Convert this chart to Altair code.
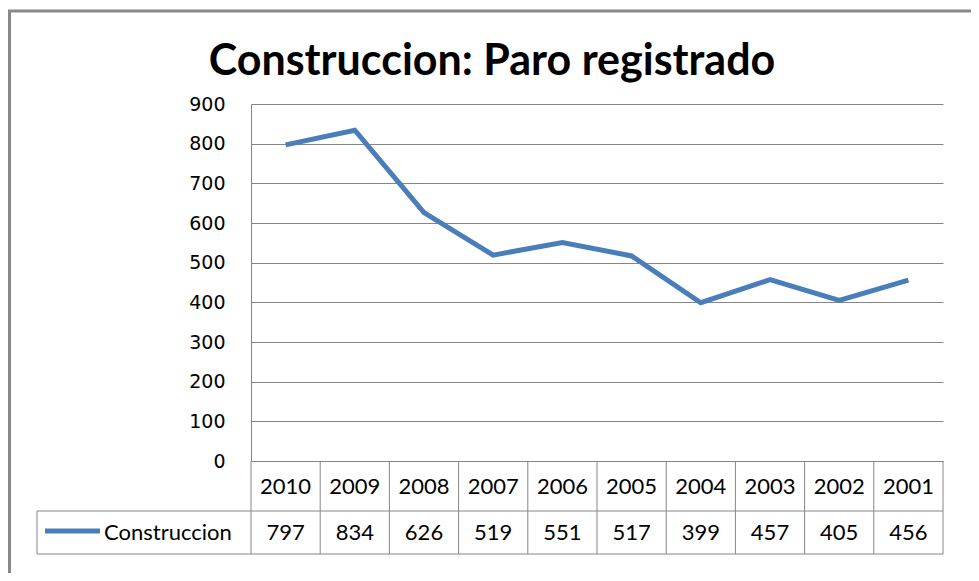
import altair as alt
import pandas as pd

years = ["2010", "2009", "2008", "2007", "2006", "2005", "2004", "2003", "2002", "2001"]
values = [797, 834, 626, 519, 551, 517, 399, 457, 405, 456]
series_name = "Construccion"
title_text = "Construccion: Paro registrado"
y_ticks = [0, 100, 200, 300, 400, 500, 600, 700, 800, 900]

n = len(years)
df = pd.DataFrame({"year": years, "value": values, "series": series_name,
                   "pos": [i + 0.5 for i in range(n)]})
edges = pd.DataFrame({"edge": list(range(n + 1))})
one = pd.DataFrame({"series": [series_name], "title": [title_text]})

W, H = 692, 357
BLUE = "#4A7EBB"
GRID = "#868686"
TFONT = "Lato"
TSIZE = 22

xscale = alt.Scale(domain=[0, n], nice=False, zero=False)
yscale = alt.Scale(domain=[0, 900], nice=False)

line = alt.Chart(df).mark_line(color=BLUE, strokeWidth=5).encode(
    x=alt.X("pos:Q", scale=xscale, axis=None),
    y=alt.Y("value:Q", scale=yscale,
            axis=alt.Axis(values=y_ticks, grid=True, gridColor=GRID, gridWidth=1,
                          domain=True, domainColor=GRID, tickSize=0,
                          labelFont="DejaVu Sans", labelFontSize=19, labelColor="#000",
                          labelPadding=26, title=None)),
)

vlines = alt.Chart(edges).mark_rule(color=GRID, strokeWidth=1).encode(
    x=alt.X("edge:Q", scale=xscale, axis=None),
    y=alt.value(H), y2=alt.value(450),
)
hlines = alt.Chart(one).mark_rule(color=GRID, strokeWidth=1).encode(
    x=alt.value(-214), x2=alt.value(W), y=alt.value(407))
hline2 = alt.Chart(one).mark_rule(color=GRID, strokeWidth=1).encode(
    x=alt.value(-214), x2=alt.value(W), y=alt.value(450))
vleft = alt.Chart(one).mark_rule(color=GRID, strokeWidth=1).encode(
    x=alt.value(-214), y=alt.value(407), y2=alt.value(450))

year_text = alt.Chart(df).mark_text(font=TFONT, fontSize=TSIZE, color="#000", baseline="middle").encode(
    x=alt.X("pos:Q", scale=xscale, axis=None),
    y=alt.value(383), text="year:N",
)
val_text = alt.Chart(df).mark_text(font=TFONT, fontSize=TSIZE, color="#000", baseline="middle").encode(
    x=alt.X("pos:Q", scale=xscale, axis=None),
    y=alt.value(429), text="value:Q",
)

legend_sym = alt.Chart(one).mark_rule(color=BLUE, strokeWidth=5).encode(
    x=alt.value(-206), x2=alt.value(-151), y=alt.value(427))
legend_txt = alt.Chart(one).mark_text(font=TFONT, fontSize=TSIZE, color="#000",
                                      align="left", baseline="middle").encode(
    x=alt.value(-147), y=alt.value(429), text="series:N")

title_mark = alt.Chart(one).mark_text(font=TFONT, fontSize=43, fontWeight="bold", color="#000",
                                      align="center", baseline="alphabetic").encode(
    x=alt.value(241), y=alt.value(-29), text="title:N")

frame_left = alt.Chart(one).mark_rule(color="#888888", strokeWidth=3).encode(
    x=alt.value(-241.5), y=alt.value(-93), y2=alt.value(470))
frame_top = alt.Chart(one).mark_rule(color="#888888", strokeWidth=3).encode(
    x=alt.value(-243), x2=alt.value(730), y=alt.value(-93))

chart = alt.layer(
    frame_left, frame_top, vlines, hlines, hline2, vleft,
    line, year_text, val_text, legend_sym, legend_txt, title_mark,
).properties(
    width=W, height=H,
    autosize=alt.AutoSizeParams(type="none"),
    padding={"left": 243, "top": 96, "right": 28, "bottom": 112},
).configure_view(stroke=None)

chart.save("out.html", embed_options={"renderer": "svg", "actions": False})
